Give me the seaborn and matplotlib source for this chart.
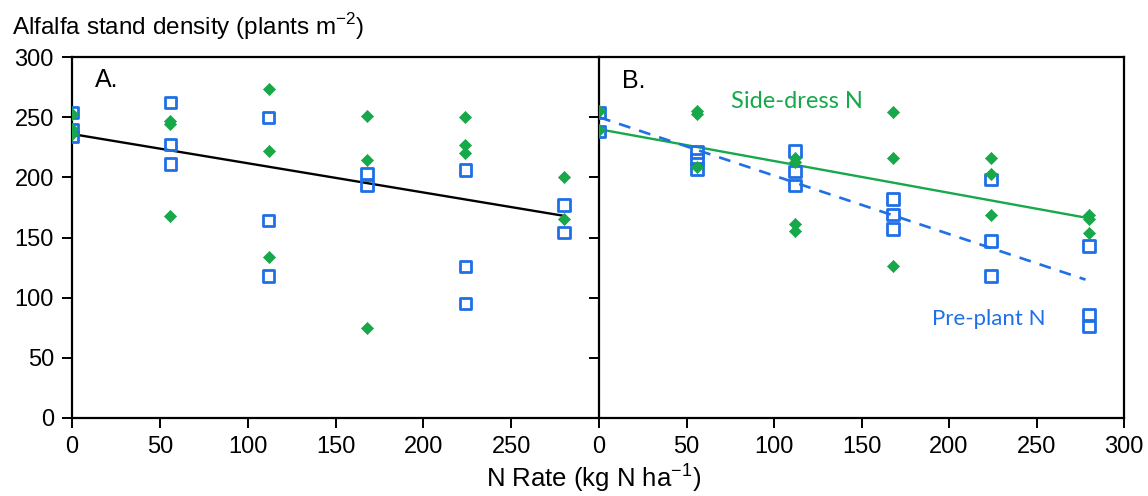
import matplotlib
matplotlib.use("Agg")
import matplotlib.pyplot as plt
import seaborn as sns

sns.set_style("ticks")
plt.rcParams["font.family"] = ["Liberation Sans", "DejaVu Sans"]
plt.rcParams["text.color"] = "black"
plt.rcParams["xtick.color"] = "black"
plt.rcParams["ytick.color"] = "black"
plt.rcParams["xtick.labelcolor"] = "black"
plt.rcParams["ytick.labelcolor"] = "black"

BLUE = "#1f6fe6"
GREEN = "#17a84a"

# Panel A: all plots, single fit
a_sq_x = [0, 0, 0, 56, 56, 56, 112, 112, 112, 168, 168, 224, 224, 224, 280, 280]
a_sq_y = [254, 240, 234, 262, 227, 211, 250, 164, 118, 203, 193, 206, 126, 95, 177, 154]
a_dm_x = [0, 0, 0, 56, 56, 56, 112, 112, 112, 168, 168, 168, 224, 224, 224, 280, 280]
a_dm_y = [253, 240, 236, 247, 244, 168, 273, 222, 134, 251, 214, 75, 250, 227, 220, 200, 165]
a_fit_x = [0, 280]
a_fit_y = [236, 168]

# Panel B: pre-plant (squares) vs side-dress (diamonds)
b_pre_x = [0, 0, 56, 56, 56, 112, 112, 112, 168, 168, 168, 224, 224, 224, 280, 280, 280]
b_pre_y = [254, 238, 221, 215, 207, 222, 205, 193, 182, 169, 157, 198, 147, 118, 143, 86, 76]
b_side_x = [0, 0, 56, 56, 56, 112, 112, 112, 112, 168, 168, 168, 224, 224, 224, 280, 280, 280]
b_side_y = [255, 239, 255, 253, 209, 216, 213, 161, 155, 254, 216, 126, 216, 203, 169, 169, 165, 154]
b_pre_fit_x = [0, 278]
b_pre_fit_y = [250, 115]
b_side_fit_x = [0, 280]
b_side_fit_y = [240, 166]

fig = plt.figure(figsize=(11.48, 4.96), dpi=100)
axA = fig.add_axes([72 / 1148, 1 - 418 / 496, 527 / 1148, 361 / 496])
axB = fig.add_axes([599 / 1148, 1 - 418 / 496, 525 / 1148, 361 / 496])

sq_kw = dict(marker="s", s=66, facecolor="none", edgecolor=BLUE, linewidth=2.0, zorder=3)
dm_kw = dict(marker="D", s=38, color=GREEN, edgecolor=GREEN, linewidth=0.5, zorder=4)

# panel A
sns.lineplot(x=a_fit_x, y=a_fit_y, color="black", linewidth=1.7, ax=axA, zorder=2)
sns.scatterplot(x=a_sq_x, y=a_sq_y, ax=axA, **sq_kw)
sns.scatterplot(x=a_dm_x, y=a_dm_y, ax=axA, **dm_kw)

# panel B
sns.lineplot(x=b_side_fit_x, y=b_side_fit_y, color=GREEN, linewidth=1.7, ax=axB, zorder=2)
sns.lineplot(x=b_pre_fit_x, y=b_pre_fit_y, color=BLUE, linewidth=1.9,
             linestyle=(0, (4.5, 3.5)), ax=axB, zorder=2)
sns.scatterplot(x=b_pre_x, y=b_pre_y, ax=axB, **sq_kw)
sns.scatterplot(x=b_side_x, y=b_side_y, ax=axB, **dm_kw)

for ax in (axA, axB):
    ax.set_xlim(0, 300)
    ax.set_ylim(0, 300)
    ax.set_yticks(range(0, 301, 50))
    ax.set_xlabel("")
    ax.set_ylabel("")
    for sp in ax.spines.values():
        sp.set_linewidth(1.6)
        sp.set_color("black")
        sp.set_visible(True)
    ax.tick_params(axis="both", direction="out", length=7, width=1.4,
                   labelsize=17, color="black", labelcolor="black", pad=6)
    ax.set_facecolor("none")

axA.set_xticks(range(0, 251, 50))
axA.spines["right"].set_visible(False)
axB.set_xticks(range(0, 301, 50))
axB.tick_params(axis="y", labelleft=False)

axA.text(13, 281, "A.", fontsize=18, va="center", ha="left", color="black")
axB.text(13, 280, "B.", fontsize=18, va="center", ha="left", color="black")
axB.text(113, 263, "Side-dress N", color=GREEN, fontsize=17, family=["Lato", "DejaVu Sans"],
         va="center", ha="center")
axB.text(223, 82, "Pre-plant N", color=BLUE, fontsize=16, family=["Lato", "DejaVu Sans"],
         va="center", ha="center")

fig.text(12 / 1148, 1 - 27 / 496, "Alfalfa stand density (plants m$^{\\mathregular{-2}}$)",
         fontsize=17.5, va="center", ha="left", color="black")
fig.text(594 / 1148, 1 - 478 / 496, "N Rate (kg N ha$^{\\mathregular{-1}}$)",
         fontsize=18.5, va="center", ha="center", color="black")

fig.savefig("out.png", dpi=100)
